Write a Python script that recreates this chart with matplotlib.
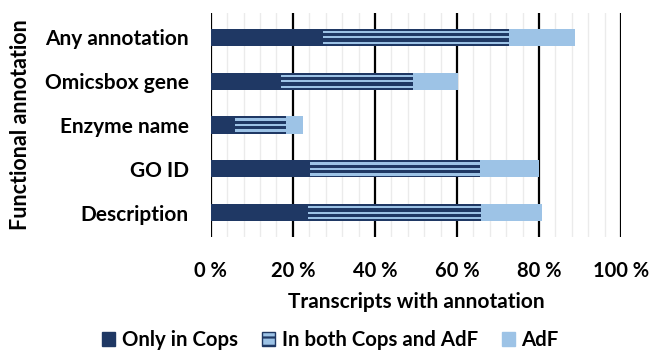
import matplotlib
matplotlib.use("Agg")
import matplotlib.pyplot as plt
from matplotlib.patches import Patch
from matplotlib.ticker import MultipleLocator, FuncFormatter
import numpy as np

categories = ["Description", "GO ID", "Enzyme name", "Omicsbox gene", "Any annotation"]
only_cops = [23.7, 24.2, 5.9, 17.0, 27.3]
both = [42.2, 41.5, 12.5, 32.2, 45.4]
adf = [14.8, 14.3, 4.1, 11.0, 16.1]
xticks = [0, 20, 40, 60, 80, 100]
legend_labels = ["Only in Cops", "In both Cops and AdF", "AdF"]

DARK = "#1F3864"
LIGHT = "#9DC3E6"

plt.rcParams['font.family'] = ['Lato', 'DejaVu Sans']
plt.rcParams['font.weight'] = 'bold'
plt.rcParams['hatch.linewidth'] = 1.6

fig = plt.figure(figsize=(6.61, 3.64), dpi=100)
ax = fig.add_axes([0.319, 0.349, 0.6205, 0.615])

y = np.arange(len(categories))
h = 0.39
oc = np.array(only_cops)
bo = np.array(both)
ad = np.array(adf)

ax.barh(y, oc, height=h, color=DARK, zorder=3)
ax.barh(y, bo, left=oc, height=h, color=DARK, zorder=3)
# light stripes inside the "both" segment
for off in (-0.125, 0.0, 0.125):
    ax.barh(y + off, bo, left=oc, height=0.05, color=LIGHT, zorder=4)
ax.barh(y, ad, left=oc + bo, height=h, color=LIGHT, zorder=3)

ax.set_xlim(0, 100)
ax.set_ylim(-0.55, 4.55)
ax.set_yticks(y)
ax.set_yticklabels(categories, fontsize=15, fontweight='bold')
ax.set_xticks(xticks)
ax.xaxis.set_major_formatter(FuncFormatter(lambda v, p: f"{int(v)} %"))
ax.xaxis.set_minor_locator(MultipleLocator(4))
ax.tick_params(axis='x', which='both', length=0, labelsize=14.5, pad=17)
ax.tick_params(axis='y', length=0, pad=16)
for lab in ax.get_xticklabels():
    lab.set_fontweight('bold')

ax.grid(axis='x', which='minor', color='#ebebeb', lw=1.0, zorder=0)
ax.grid(axis='x', which='major', color='black', lw=1.6, zorder=1)
for s in ax.spines.values():
    s.set_visible(False)

ax.set_xlabel("Transcripts with annotation", fontsize=15, fontweight='bold', labelpad=8)
ax.set_ylabel("Functional annotation", fontsize=15.5, fontweight='bold', labelpad=10)

handles = [Patch(facecolor=DARK, edgecolor=DARK),
           Patch(facecolor=LIGHT, edgecolor=DARK, hatch='--'),
           Patch(facecolor=LIGHT, edgecolor=LIGHT)]
fig.legend(handles, legend_labels, loc='center', bbox_to_anchor=(0.5, 0.065), ncol=3,
           frameon=False, handlelength=0.65, handleheight=0.65,
           handletextpad=0.3, columnspacing=1.2, prop={'weight': 'bold', 'size': 14.7})

fig.savefig("out.png", dpi=100)
